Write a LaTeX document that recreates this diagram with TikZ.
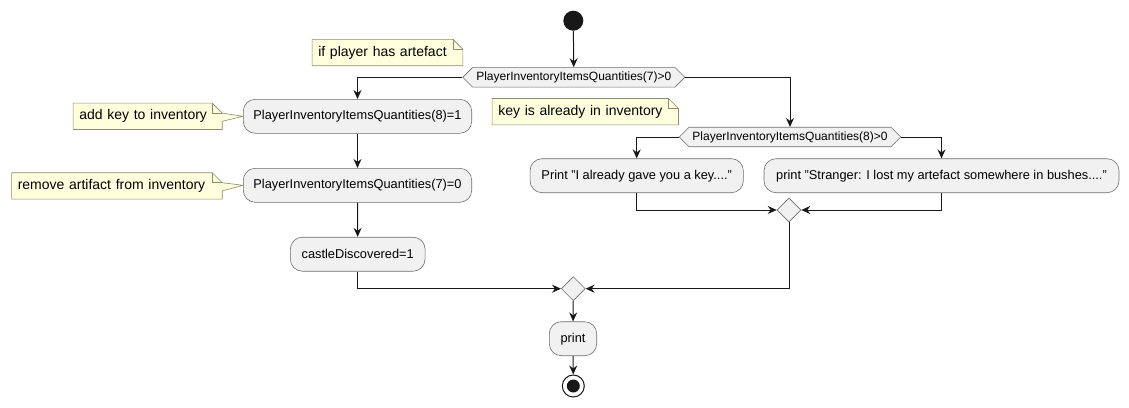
\documentclass[tikz,border=0pt]{standalone}
\usepackage{fontspec}
\setmainfont{Liberation Sans}
\usetikzlibrary{arrows.meta,shapes.geometric,shapes.symbols,backgrounds}
\definecolor{boxfill}{HTML}{F1F1F1}
\definecolor{boxline}{HTML}{6E6E6E}
\definecolor{notefill}{HTML}{FEFFDD}
\definecolor{noteline}{HTML}{8C8C70}
\definecolor{ink}{HTML}{181818}
\tikzset{
  act/.style={draw=boxline, fill=boxfill, line width=0.6pt, rounded corners=12pt,
    minimum height=34pt, inner sep=0pt, font=\fontsize{12.8}{15}\selectfont},
  cond/.style={draw=boxline, fill=boxfill, line width=0.6pt, shape=signal,
    signal to=east and west, signal pointer angle=90, minimum height=19.5pt,
    inner sep=0pt, font=\fontsize{12}{14}\selectfont},
  merge/.style={draw=boxline, fill=boxfill, line width=0.6pt, diamond,
    minimum width=24pt, minimum height=24pt, inner sep=0pt},
  memo/.style={inner xsep=6pt, inner ysep=0pt, minimum height=26pt, align=left,
    font=\fontsize{14}{16}\selectfont},
  memoline/.style={draw=noteline, fill=notefill, line width=0.6pt},
  flow/.style={draw=ink, line width=1pt, -{Stealth[length=9pt,width=8pt,inset=3pt]}},
}
\begin{document}
\begin{tikzpicture}[x=1pt,y=-1pt]
    \useasboundingbox (0,0) rectangle (1129,407);
    % main column
    \node[circle, fill=ink, minimum size=20pt, inner sep=0pt] (start) at (573.3,20.7) {};
    \node[cond, minimum width=222pt] (hasart) at (573.8,77.3) {PlayerInventoryItemsQuantities(7)>0};
    \node[act, minimum width=228.4pt] (addkey) at (357.5,116.3) {PlayerInventoryItemsQuantities(8)=1};
    \node[act, minimum width=228.4pt] (delart) at (357.5,185.3) {PlayerInventoryItemsQuantities(7)=0};
    \node[act, minimum width=134.7pt] (castle) at (357.7,254.2) {castleDiscovered=1};
    \node[cond, minimum width=221.4pt] (haskey) at (790,137) {PlayerInventoryItemsQuantities(8)>0};
    \node[act, minimum width=213.3pt] (gave) at (636.7,175.7) {Print "I already gave you a key...."};
    \node[act, minimum width=355pt] (lost) at (941.5,175.7) {print "Stranger: I lost my artefact somewhere in bushes...."};
    \node[merge] (join1) at (789,210) {};
    \node[merge] (join2) at (573.3,288.7) {};
    \node[act, minimum width=47.4pt] (out) at (573,338.7) {print};
    \node[circle, draw=ink, line width=1pt, fill=white, minimum size=22pt, inner sep=0pt] (stop) at (573.3,386) {};
    \fill[ink] (stop.center) circle [radius=6.5pt];
    % notes
    \node[memo, text width=138.4pt] (nart) at (387.5,52.5) {if player has artefact};
    \node[memo, text width=174pt] (nkey) at (585.3,111.7) {key is already in inventory};
    \node[memo, text width=136.7pt] (nadd) at (147.7,116.3) {add key to inventory};
    \node[memo, text width=198.3pt] (ndel) at (116.9,185.9) {remove artifact from inventory};
    \begin{scope}[on background layer]
        \draw[memoline] (nart.north west) -- ([xshift=-10pt]nart.north east) -- ([yshift=-10pt]nart.north east)
            -- (nart.south east) -- (nart.south west) -- cycle;
        \draw[noteline, line width=0.6pt] ([xshift=-10pt]nart.north east) |- ([yshift=-10pt]nart.north east);
        \draw[memoline] (nkey.north west) -- ([xshift=-10pt]nkey.north east) -- ([yshift=-10pt]nkey.north east)
            -- (nkey.south east) -- (nkey.south west) -- cycle;
        \draw[noteline, line width=0.6pt] ([xshift=-10pt]nkey.north east) |- ([yshift=-10pt]nkey.north east);
        \draw[memoline] (nadd.north west) -- ([xshift=-10pt]nadd.north east) -- ([yshift=-10pt]nadd.north east)
            -- (addkey.west) -- ([yshift=-5pt]nadd.east) -- (nadd.south east) -- (nadd.south west) -- cycle;
        \draw[noteline, line width=0.6pt] ([xshift=-10pt]nadd.north east) |- ([yshift=-10pt]nadd.north east);
        \draw[memoline] (ndel.north west) -- ([xshift=-10pt]ndel.north east) -- ([yshift=-10pt]ndel.north east)
            -- (delart.west) -- ([yshift=-5pt]ndel.east) -- (ndel.south east) -- (ndel.south west) -- cycle;
        \draw[noteline, line width=0.6pt] ([xshift=-10pt]ndel.north east) |- ([yshift=-10pt]ndel.north east);
    \end{scope}
    % connectors
    \draw[flow] (start) -- (hasart);
    \draw[flow] (hasart.west) -| (addkey);
    \draw[flow] (hasart.east) -| (haskey);
    \draw[flow] (addkey) -- (delart);
    \draw[flow] (delart) -- (castle);
    \draw[flow] (castle) |- (join2);
    \draw[flow] (haskey.west) -| (gave);
    \draw[flow] (haskey.east) -| (lost);
    \draw[flow] (gave) |- (join1);
    \draw[flow] (lost) |- (join1);
    \draw[flow] (join1) |- (join2);
    \draw[flow] (join2) -- (out);
    \draw[flow] (out) -- (stop);
\end{tikzpicture}
\end{document}
